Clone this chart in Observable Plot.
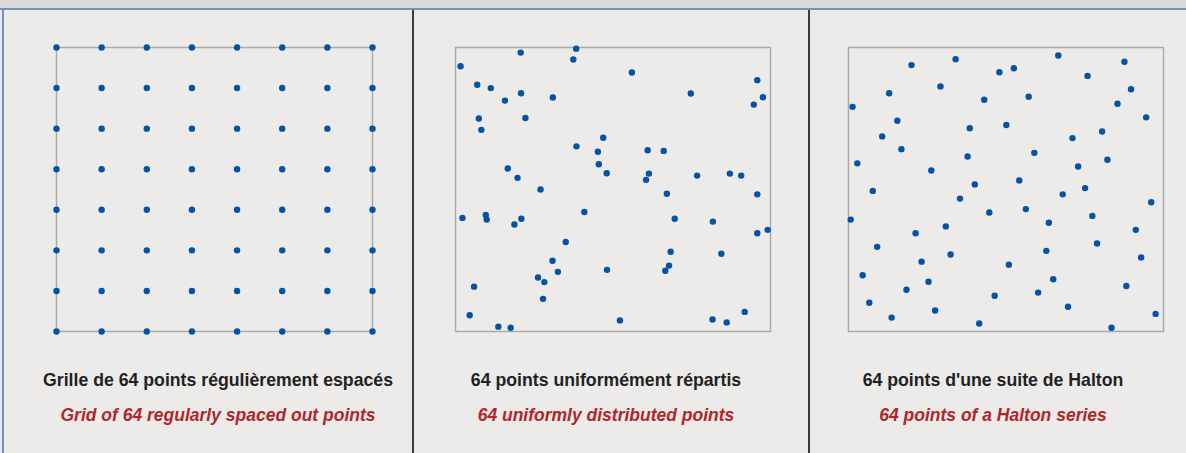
<!DOCTYPE html>
<html>
<head>
<meta charset="utf-8">
<script src="https://cdn.jsdelivr.net/npm/d3@7"></script>
<script src="https://cdn.jsdelivr.net/npm/@observablehq/plot@0.6"></script>
<style>
  html, body { margin: 0; padding: 0; }
  body { width: 1186px; height: 453px; background: #ecebea; position: relative; overflow: hidden;
         font-family: "Liberation Sans", Arial, sans-serif; }
  .strip { position: absolute; left: 0; top: 0; width: 1186px; height: 8px; background: #dcdbda; }
  .blue-h { position: absolute; left: 0; top: 8px; width: 1186px; height: 2px; background: #6f93c4; }
  .blue-v { position: absolute; left: 2px; top: 8px; width: 2px; height: 445px; background: #6f93c4; }
  .divider { position: absolute; top: 10px; width: 2px; height: 443px; background: #3a3a3a; }
  .panel { position: absolute; top: 0; }
  .fr { position: absolute; top: 369px; font-weight: bold; font-size: 17.7px; line-height: 22px; color: #222; white-space: nowrap; transform: translateX(-50%); }
  .en { position: absolute; top: 404px; font-weight: bold; font-style: italic; font-size: 17.5px; line-height: 22px; color: #b0262c; white-space: nowrap; transform: translateX(-50%); }
</style>
</head>
<body>
<div class="strip"></div>
<div class="blue-h"></div>
<div class="blue-v"></div>
<div class="divider" style="left:412px"></div>
<div class="divider" style="left:808px"></div>
<script>
// ---- data ----
const gridSteps = [0, 1, 2, 3, 4, 5, 6, 7];

const uniformX = [0.016,0.207,0.383,0.374,0.069,0.112,0.208,0.157,0.309,0.074,0.222,0.082,0.469,0.384,0.452,0.455,0.480,0.166,0.197,0.270,
  0.560,0.747,0.958,0.976,0.947,0.610,0.661,0.614,0.605,0.767,0.871,0.907,0.022,0.096,0.099,0.209,0.187,0.409,0.350,0.308,
  0.325,0.262,0.282,0.278,0.481,0.059,0.045,0.136,0.175,0.671,0.958,0.696,0.817,0.958,0.991,0.683,0.844,0.678,0.666,0.522,
  0.816,0.861,0.918];
const uniformY = [0.934,0.982,0.996,0.958,0.869,0.857,0.839,0.813,0.824,0.750,0.752,0.710,0.682,0.652,0.633,0.589,0.557,0.574,0.541,0.500,
  0.912,0.838,0.885,0.825,0.799,0.638,0.636,0.556,0.534,0.549,0.556,0.549,0.400,0.410,0.394,0.397,0.377,0.421,0.315,0.249,
  0.210,0.190,0.174,0.115,0.217,0.158,0.057,0.017,0.013,0.485,0.483,0.397,0.387,0.346,0.358,0.281,0.274,0.232,0.214,0.039,
  0.042,0.032,0.069];

const haltonX = [0.200,0.340,0.479,0.129,0.292,0.431,0.013,0.155,0.385,0.501,0.107,0.168,0.378,0.028,0.263,0.401,0.077,
  0.666,0.525,0.876,0.759,0.897,0.572,0.854,0.945,0.805,0.711,0.590,0.822,0.729,0.542,0.751,
  0.354,0.447,0.007,0.213,0.309,0.091,0.324,0.232,0.509,0.045,0.254,0.184,0.464,0.066,0.275,0.137,0.415,
  0.680,0.563,0.961,0.636,0.774,0.912,0.789,0.628,0.929,0.650,0.882,0.602,0.697,0.975,0.835];
const haltonY = [0.938,0.959,0.913,0.839,0.863,0.816,0.791,0.742,0.716,0.727,0.687,0.642,0.616,0.592,0.567,0.518,0.495,
  0.972,0.927,0.950,0.900,0.853,0.827,0.802,0.754,0.704,0.681,0.629,0.605,0.581,0.532,0.505,
  0.468,0.419,0.394,0.346,0.370,0.298,0.271,0.246,0.235,0.198,0.175,0.147,0.126,0.101,0.074,0.049,0.028,
  0.483,0.431,0.455,0.383,0.407,0.358,0.310,0.284,0.261,0.184,0.160,0.137,0.087,0.062,0.013];

const titlesFr = ["Grille de 64 points régulièrement espacés", "64 points uniformément répartis", "64 points d'une suite de Halton"];
const titlesEn = ["Grid of 64 regularly spaced out points", "64 uniformly distributed points", "64 points of a Halton series"];

// ---- build ----
const gridPts = d3.cross(gridSteps, gridSteps).map(([i, j]) => ({x: i / 7, y: j / 7}));
const uniformPts = uniformX.map((x, i) => ({x, y: uniformY[i]}));
const haltonPts = haltonX.map((x, i) => ({x, y: haltonY[i]}));

const panels = [
  {left: 0, width: 413, ml: 56, mr: 41, pts: gridPts, tx: 218},
  {left: 413, width: 396, ml: 42, mr: 39, pts: uniformPts, tx: 606},
  {left: 809, width: 377, ml: 39, mr: 23, pts: haltonPts, tx: 993}
];

panels.forEach((p, k) => {
  const chart = Plot.plot({
    width: p.width,
    height: 453,
    marginLeft: p.ml,
    marginRight: p.mr,
    marginTop: 47,
    marginBottom: 122,
    x: {domain: [0, 1], axis: null},
    y: {domain: [0, 1], axis: null},
    style: {background: "transparent", overflow: "visible"},
    marks: [
      Plot.frame({stroke: "#aaaaaa", strokeWidth: 1.5}),
      Plot.dot(p.pts, {x: "x", y: "y", r: 3.2, fill: "#0652a5", stroke: "none"})
    ]
  });
  const div = document.createElement("div");
  div.className = "panel";
  div.style.left = p.left + "px";
  div.appendChild(chart);
  document.body.appendChild(div);

  const fr = document.createElement("div");
  fr.className = "fr";
  fr.style.left = p.tx + "px";
  fr.textContent = titlesFr[k];
  document.body.appendChild(fr);

  const en = document.createElement("div");
  en.className = "en";
  en.style.left = p.tx + "px";
  en.textContent = titlesEn[k];
  document.body.appendChild(en);
});
</script>
</body>
</html>
